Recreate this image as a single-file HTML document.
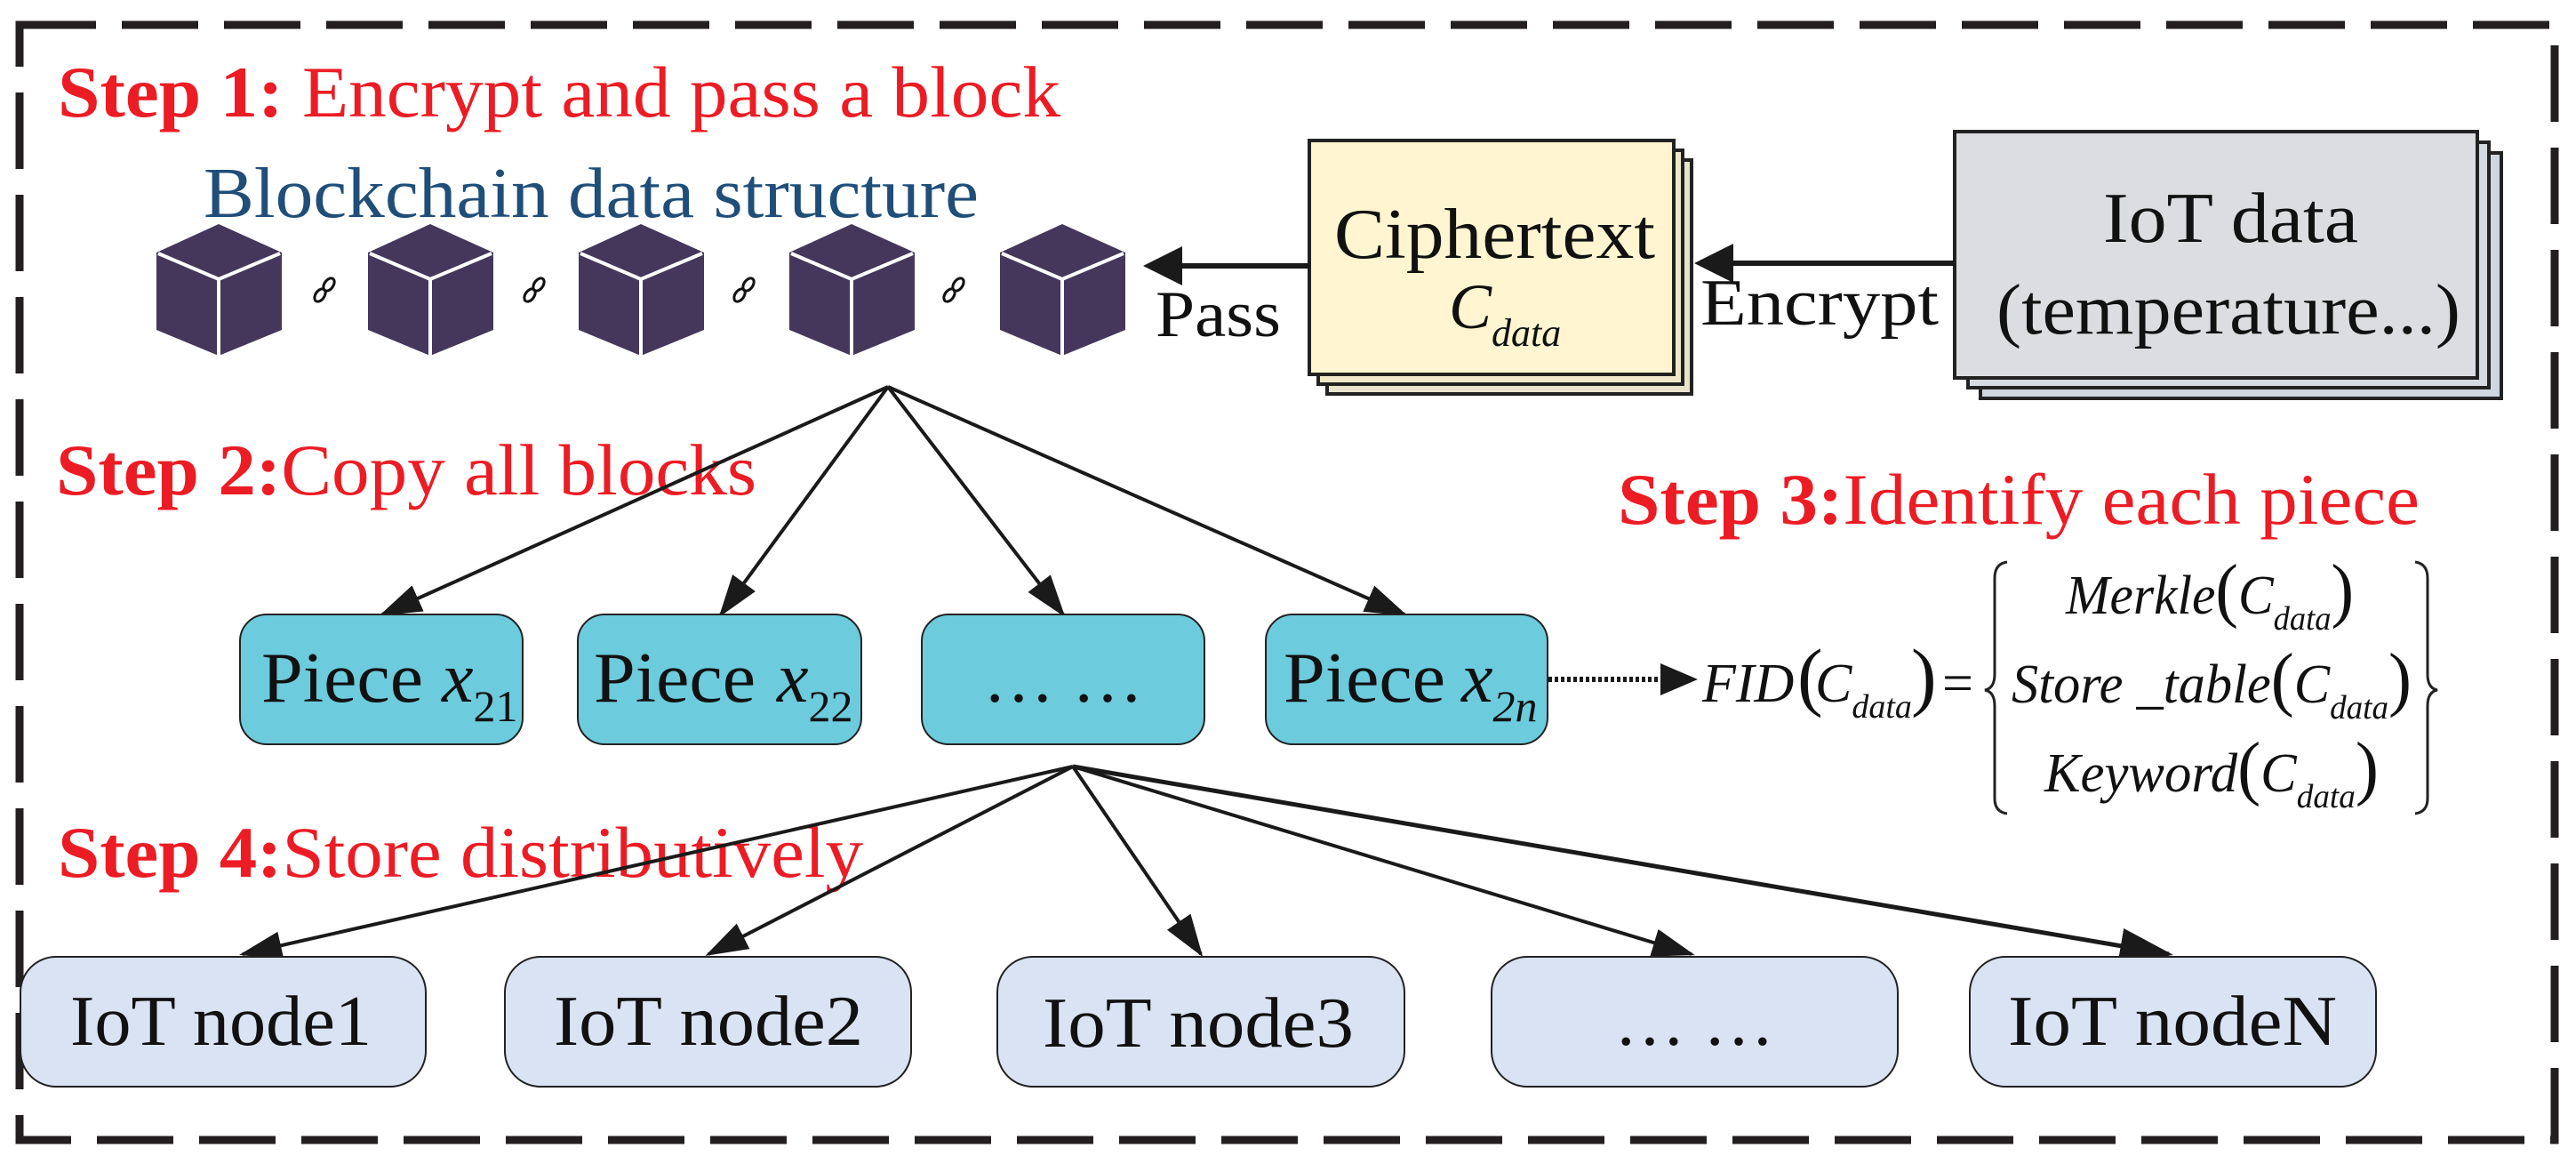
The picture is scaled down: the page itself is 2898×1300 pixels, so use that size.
<!DOCTYPE html>
<html><head><meta charset="utf-8"><style>
html,body{margin:0;padding:0;background:#fff;}
svg{display:block;}
text{font-family:"Liberation Serif","Times New Roman",serif;}
</style></head><body>
<svg width="2898" height="1300" viewBox="0 0 2898 1300" xmlns="http://www.w3.org/2000/svg">
<defs>
<marker id="ah" markerWidth="12" markerHeight="8" refX="11" refY="4" orient="auto" markerUnits="strokeWidth">
<path d="M0,0 L12,4 L0,8 z" fill="#1a1a1a"/>
</marker>
<g id="cube">
<polygon points="70,0 141,32 141,119 70,148 0,119 0,32" fill="#45375b"/>
<polyline points="2,33 70,62 139,33" fill="none" stroke="#fff" stroke-width="4"/>
<line x1="70" y1="62" x2="70" y2="148" stroke="#fff" stroke-width="4"/>
</g>
<g id="link">
<ellipse cx="-5" cy="6" rx="5" ry="8" transform="rotate(35 -5 6)" fill="none" stroke="#111" stroke-width="3"/>
<ellipse cx="5" cy="-6" rx="5" ry="8" transform="rotate(35 5 -6)" fill="none" stroke="#111" stroke-width="3"/>
</g>
</defs>

<rect x="22" y="28" width="2852" height="1254" fill="none" stroke="#231f20" stroke-width="9" stroke-dasharray="86 29"/>

<text x="65" y="131" font-size="82" fill="#ec1c24" textLength="1128" lengthAdjust="spacingAndGlyphs"><tspan font-weight="bold">Step 1:</tspan> Encrypt and pass a block</text>
<text x="229" y="244" font-size="80" fill="#1f4e79" textLength="872" lengthAdjust="spacingAndGlyphs">Blockchain data structure</text>
<text x="63" y="556" font-size="82" fill="#ec1c24" textLength="788" lengthAdjust="spacingAndGlyphs"><tspan font-weight="bold">Step 2:</tspan>Copy all blocks</text>
<text x="1820" y="589" font-size="82" fill="#ec1c24" textLength="902" lengthAdjust="spacingAndGlyphs"><tspan font-weight="bold">Step 3:</tspan>Identify each piece</text>

<use href="#cube" x="176" y="252"/>
<use href="#cube" x="414" y="252"/>
<use href="#cube" x="651" y="252"/>
<use href="#cube" x="888" y="252"/>
<use href="#cube" x="1125" y="252"/>
<use href="#link" x="365" y="326"/>
<use href="#link" x="601" y="326"/>
<use href="#link" x="837" y="326"/>
<use href="#link" x="1073" y="326"/>

<rect x="1493" y="180" width="410" height="263" fill="#e8e4cc" stroke="#222" stroke-width="4"/>
<rect x="1483" y="169" width="410" height="263" fill="#efe9c8" stroke="#222" stroke-width="4"/>
<rect x="1473" y="158" width="410" height="263" fill="#fff5d0" stroke="#222" stroke-width="4"/>
<text x="1501" y="290" font-size="80" fill="#111" textLength="361" lengthAdjust="spacingAndGlyphs">Ciphertext</text>
<text x="1630" y="369" font-size="72" font-style="italic" fill="#111">C<tspan font-size="44" dy="20">data</tspan></text>

<rect x="2228" y="172" width="586" height="276" fill="#cfd6e0" stroke="#222" stroke-width="4"/>
<rect x="2214" y="160" width="586" height="276" fill="#d6dbe2" stroke="#222" stroke-width="4"/>
<rect x="2199" y="148" width="588" height="277" fill="#dcdde0" stroke="#222" stroke-width="4"/>
<text x="2366" y="272" font-size="80" fill="#111" textLength="287" lengthAdjust="spacingAndGlyphs">IoT data</text>
<text x="2246" y="375" font-size="80" fill="#111" textLength="522" lengthAdjust="spacingAndGlyphs">(temperature...)</text>

<line x1="2199" y1="296" x2="1950" y2="296" stroke="#1a1a1a" stroke-width="6"/>
<polygon points="1906,296 1950,274 1950,318" fill="#1a1a1a"/>
<text x="1913" y="365" font-size="74" fill="#111" textLength="268" lengthAdjust="spacingAndGlyphs">Encrypt</text>
<line x1="1473" y1="299" x2="1330" y2="299" stroke="#1a1a1a" stroke-width="6"/>
<polygon points="1286,299 1330,277 1330,321" fill="#1a1a1a"/>
<text x="1300" y="378" font-size="74" fill="#111" textLength="141" lengthAdjust="spacingAndGlyphs">Pass</text>

<g stroke="#1a1a1a" stroke-width="4" fill="none">
<line x1="999" y1="435" x2="430" y2="691" marker-end="url(#ah)"/>
<line x1="999" y1="435" x2="811" y2="691" marker-end="url(#ah)"/>
<line x1="999" y1="435" x2="1196" y2="691" marker-end="url(#ah)"/>
<line x1="999" y1="435" x2="1580" y2="691" marker-end="url(#ah)"/>
</g>

<g fill="#6ccbdc" stroke="#222" stroke-width="2">
<rect x="270" y="691" width="318" height="146" rx="30"/>
<rect x="650" y="691" width="319" height="146" rx="30"/>
<rect x="1037" y="691" width="318" height="146" rx="30"/>
<rect x="1424" y="691" width="317" height="146" rx="30"/>
</g>
<g font-size="80" fill="#111">
<text x="294" y="789" textLength="182" lengthAdjust="spacingAndGlyphs">Piece</text>
<text x="497" y="789" font-style="italic">x<tspan font-style="normal" font-size="50" dy="22">21</tspan></text>
<text x="668" y="789" textLength="182" lengthAdjust="spacingAndGlyphs">Piece</text>
<text x="874" y="789" font-style="italic">x<tspan font-style="normal" font-size="50" dy="22">22</tspan></text>
<text x="1196" y="789" text-anchor="middle">… …</text>
<text x="1444" y="789" textLength="182" lengthAdjust="spacingAndGlyphs">Piece</text>
<text x="1644" y="789" font-style="italic">x<tspan font-size="50" dy="22">2n</tspan></text>
</g>

<line x1="1742" y1="764" x2="1870" y2="764" stroke="#1a1a1a" stroke-width="6" stroke-dasharray="4 3"/>
<polygon points="1910,764 1868,746 1868,782" fill="#1a1a1a"/>

<g font-size="62" font-style="italic" fill="#111">
<text x="1915" y="789">FID</text>
<text x="2022" y="789" font-style="normal" font-size="86">(</text>
<text x="2042" y="789">C<tspan font-size="38" dy="18">data</tspan></text>
<text x="2150" y="789" font-style="normal" font-size="86">)</text>
<text x="2185" y="789" font-style="normal">=</text>
<text x="2324" y="690" textLength="324" lengthAdjust="spacingAndGlyphs">Merkle<tspan font-style="normal" font-size="80">(</tspan>C<tspan font-size="38" dy="18">data</tspan><tspan font-style="normal" font-size="80" dy="-18">)</tspan></text>
<text x="2263" y="790" textLength="450" lengthAdjust="spacingAndGlyphs">Store _table<tspan font-style="normal" font-size="80">(</tspan>C<tspan font-size="38" dy="18">data</tspan><tspan font-style="normal" font-size="80" dy="-18">)</tspan></text>
<text x="2300" y="890" textLength="376" lengthAdjust="spacingAndGlyphs">Keyword<tspan font-style="normal" font-size="80">(</tspan>C<tspan font-size="38" dy="18">data</tspan><tspan font-style="normal" font-size="80" dy="-18">)</tspan></text>
</g>
<path d="M2258,632 Q2244,634 2244,650 L2244,758 Q2244,774 2233,776 Q2244,778 2244,794 L2244,898 Q2244,913 2258,915" fill="none" stroke="#222" stroke-width="3"/>
<path d="M2717,632 Q2731,634 2731,650 L2731,758 Q2731,774 2742,776 Q2731,778 2731,794 L2731,898 Q2731,913 2717,915" fill="none" stroke="#222" stroke-width="3"/>

<text x="65" y="986" font-size="82" fill="#ec1c24" textLength="906" lengthAdjust="spacingAndGlyphs"><tspan font-weight="bold">Step 4:</tspan>Store distributively</text>

<g stroke="#1a1a1a" stroke-width="4" fill="none">
<line x1="1207" y1="862" x2="273" y2="1073" marker-end="url(#ah)"/>
<line x1="1207" y1="862" x2="797" y2="1073" marker-end="url(#ah)"/>
<line x1="1207" y1="862" x2="1351" y2="1073" marker-end="url(#ah)"/>
<line x1="1207" y1="862" x2="1903" y2="1073" marker-end="url(#ah)"/>
<line x1="1207" y1="862" x2="2440" y2="1073" stroke-width="5" marker-end="url(#ah)"/>
</g>

<g fill="#d9e3f3" stroke="#222" stroke-width="2">
<rect x="23" y="1076" width="456" height="146" rx="40"/>
<rect x="568" y="1076" width="457" height="146" rx="40"/>
<rect x="1122" y="1076" width="458" height="146" rx="40"/>
<rect x="1678" y="1076" width="457" height="146" rx="40"/>
<rect x="2216" y="1076" width="457" height="146" rx="40"/>
</g>
<g font-size="80" fill="#111">
<text x="79" y="1175" textLength="339" lengthAdjust="spacingAndGlyphs">IoT node1</text>
<text x="623" y="1175" textLength="348" lengthAdjust="spacingAndGlyphs">IoT node2</text>
<text x="1173" y="1177" textLength="350" lengthAdjust="spacingAndGlyphs">IoT node3</text>
<text x="1906" y="1175" text-anchor="middle">… …</text>
<text x="2259" y="1175" textLength="370" lengthAdjust="spacingAndGlyphs">IoT nodeN</text>
</g>
</svg>
</body></html>
